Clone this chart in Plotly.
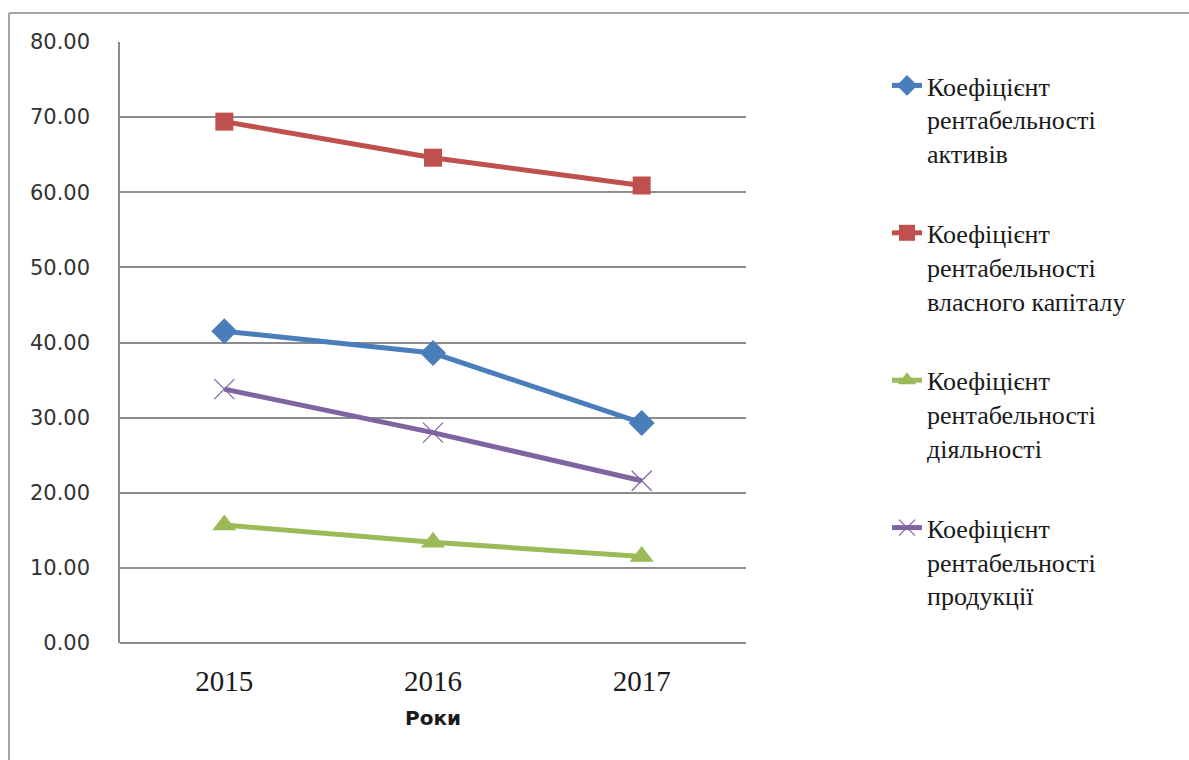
import plotly.graph_objects as go

# Profitability ratios by year
years = ["2015", "2016", "2017"]
roa = [41.5, 38.6, 29.3]          # Коефіцієнт рентабельності активів
roe = [69.4, 64.6, 60.9]          # Коефіцієнт рентабельності власного капіталу
ros = [15.7, 13.4, 11.5]          # Коефіцієнт рентабельності діяльності
rop = [33.8, 28.0, 21.6]          # Коефіцієнт рентабельності продукції

series_names = [
    "Коефіцієнт<br>рентабельності<br>активів",
    "Коефіцієнт<br>рентабельності<br>власного капіталу",
    "Коефіцієнт<br>рентабельності<br>діяльності",
    "Коефіцієнт<br>рентабельності<br>продукції",
]

styles = [
    dict(color="#4a7ebb", symbol="diamond", size=20, mline=0),
    dict(color="#c0504d", symbol="square", size=18, mline=0),
    dict(color="#9bbb59", symbol="triangle-up", size=21, mline=0),
    dict(color="#8064a2", symbol="x-thin-open", size=20, mline=1.2),
]

fig = go.Figure()
for i, (vals, name, st) in enumerate(zip([roa, roe, ros, rop], series_names, styles)):
    fig.add_trace(go.Scatter(
        x=years, y=vals, name=name, mode="lines+markers",
        legendgroup=f"g{i}",
        line=dict(color=st["color"], width=5),
        marker=dict(symbol=st["symbol"], size=st["size"], color=st["color"],
                    line=dict(color=st["color"], width=st["mline"])),
    ))

W, H = 1189, 760
L, R, T, B = 120, 746, 42, 643
pw, ph = R - L, B - T


def px(x):
    return (x - L) / pw


def py(y):
    return (B - y) / ph


fig.update_layout(
    width=W, height=H,
    margin=dict(l=L, r=W - R, t=T, b=H - B),
    paper_bgcolor="white", plot_bgcolor="white",
    showlegend=True,
    legend=dict(
        x=px(887), y=py(62), xanchor="left", yanchor="top",
        font=dict(family="Liberation Serif", size=26, color="#1a1a1a"),
        tracegroupgap=43, itemwidth=30, valign="top",
        bgcolor="rgba(0,0,0,0)",
    ),
    xaxis=dict(
        type="category", range=[-0.5, 2.5],
        showgrid=False, showline=False, zeroline=False, ticks="",
        ticklabelstandoff=18,
        tickfont=dict(family="Liberation Serif", size=29, color="#1a1a1a"),
        title=dict(text="<b>Роки</b>", standoff=14,
                   font=dict(family="DejaVu Sans", size=20, color="#1a1a1a")),
    ),
    yaxis=dict(
        range=[0, 80], dtick=10, tickformat=".2f",
        showgrid=True, gridcolor="#8c8c8c", gridwidth=1.5,
        showline=True, linecolor="#8c8c8c", linewidth=1.5,
        zeroline=True, zerolinecolor="#8c8c8c", zerolinewidth=1.5,
        ticks="", ticklabelstandoff=24,
        tickfont=dict(family="DejaVu Sans", size=21, color="#333333"),
    ),
    shapes=[
        dict(type="line", xref="paper", yref="paper",
             x0=px(9), x1=px(9), y0=py(13), y1=py(780),
             line=dict(color="#a6a6a6", width=2)),
        dict(type="line", xref="paper", yref="paper",
             x0=px(9), x1=px(1200), y0=py(13), y1=py(13),
             line=dict(color="#a6a6a6", width=2)),
    ],
)

fig.write_html("out.html")
